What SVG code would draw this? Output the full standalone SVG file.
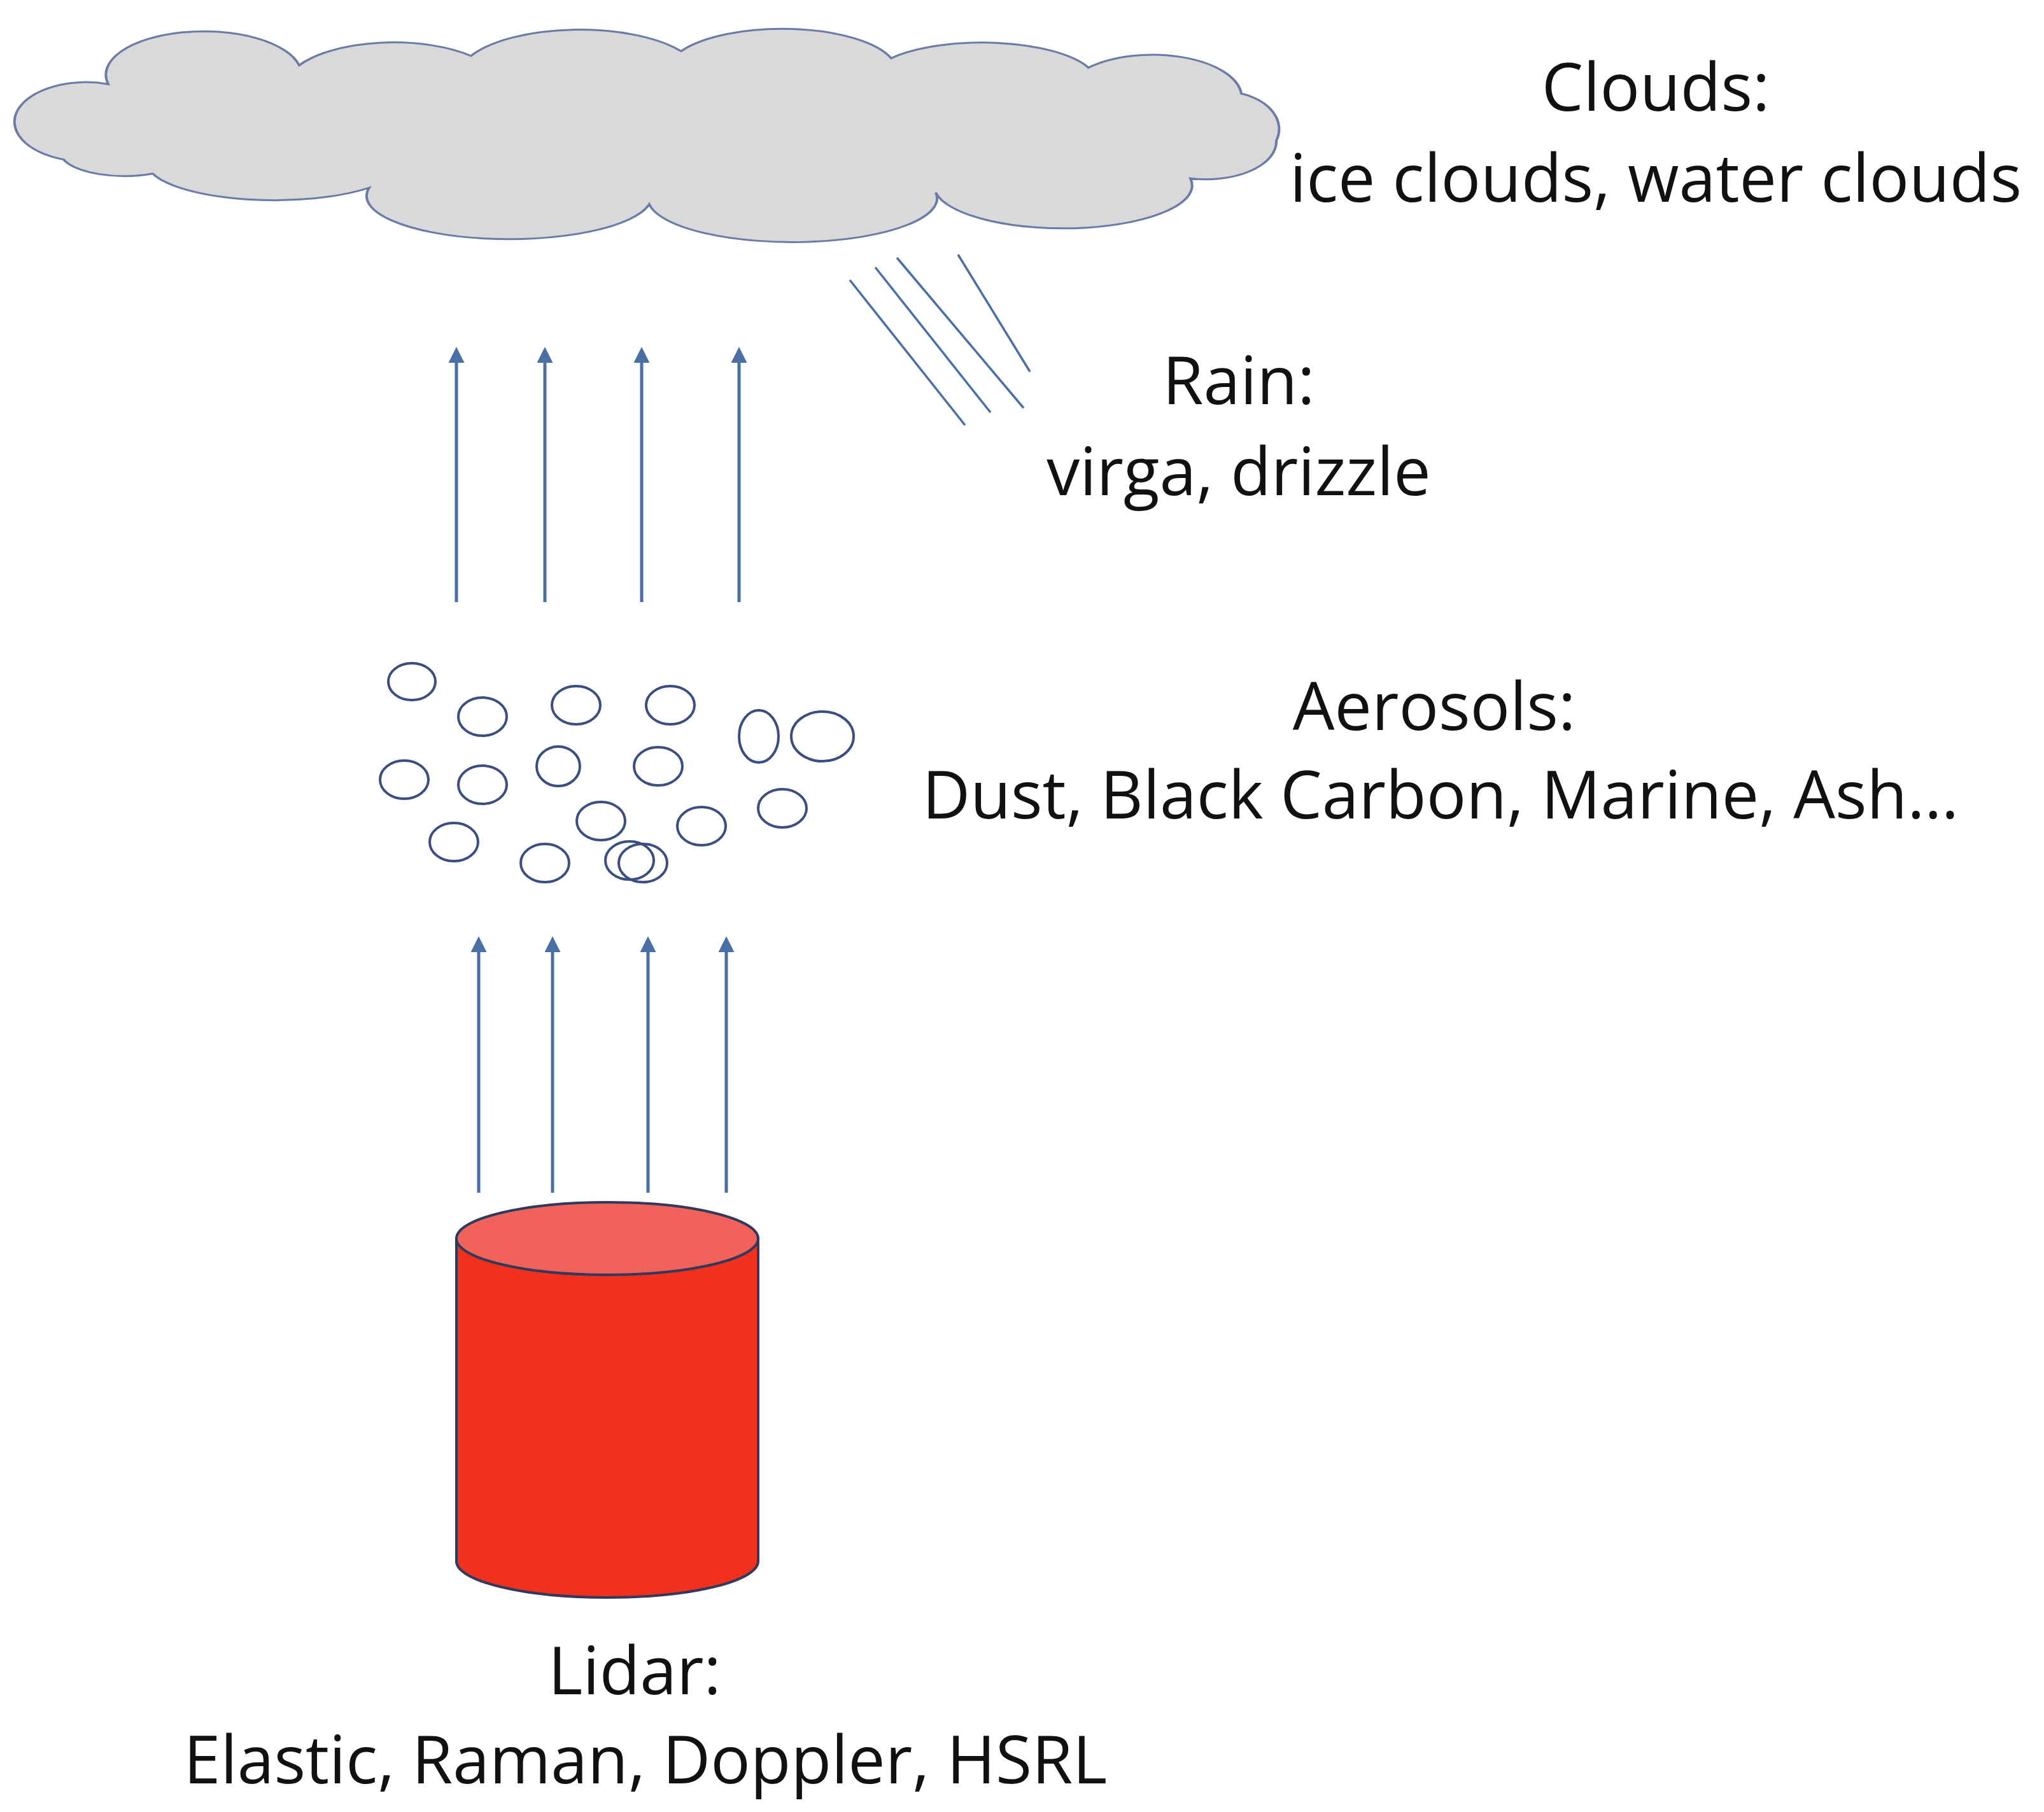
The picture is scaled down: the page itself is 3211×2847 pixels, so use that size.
<svg xmlns="http://www.w3.org/2000/svg" width="3211" height="2847" viewBox="0 0 3211 2847">
<style>
text{font-family:"Open Sans","Liberation Sans",sans-serif;font-size:104px;fill:#111;text-anchor:middle}
.arr{stroke:#4A6FA5;stroke-width:5;fill:none}
.p{fill:none;stroke:#3A4E80;stroke-width:4}
.rain{stroke:#4A6FA5;stroke-width:3.5}
</style>
<defs><marker id="ah" markerWidth="5" markerHeight="5" refX="2" refY="2.5" orient="auto" markerUnits="strokeWidth"><path d="M0,0 L5,2.5 L0,5 Z" fill="#4A6FA5"/></marker></defs>
<g id="cloud"><path transform="translate(20,36) scale(1,0.74)" d="M 80,290 A 80,60 0 0 1 150,130 A 150,90 0 0 1 450,90 A 170,95 0 0 1 720,70 A 190,100 0 0 1 1050,60 A 180,90 0 0 1 1380,75 A 180,85 0 0 1 1690,95 A 140,90 0 0 1 1930,150 A 90,80 0 0 1 1985,250 A 110,80 0 0 1 1850,330 A 200,90 0 0 1 1450,360 A 220,90 0 0 1 1000,385 A 220,90 0 0 1 560,350 A 200,80 0 0 1 220,320 A 100,50 0 0 1 80,290 Z" fill="#D9D9D9" stroke="#6B7BA8" stroke-width="4"/></g>
<g id="rain"><line class="rain" x1="1335" y1="440" x2="1516" y2="668"/><line class="rain" x1="1375" y1="420" x2="1556" y2="648"/><line class="rain" x1="1409" y1="405" x2="1608" y2="641"/><line class="rain" x1="1505" y1="400" x2="1618" y2="584"/></g>
<g id="connectors">
<line class="arr" x1="717" y1="946" x2="717" y2="560" marker-end="url(#ah)"/>
<line class="arr" x1="856" y1="946" x2="856" y2="560" marker-end="url(#ah)"/>
<line class="arr" x1="1008" y1="946" x2="1008" y2="560" marker-end="url(#ah)"/>
<line class="arr" x1="1161" y1="946" x2="1161" y2="560" marker-end="url(#ah)"/>
<line class="arr" x1="752" y1="1874" x2="752" y2="1486" marker-end="url(#ah)"/>
<line class="arr" x1="868" y1="1874" x2="868" y2="1486" marker-end="url(#ah)"/>
<line class="arr" x1="1018" y1="1874" x2="1018" y2="1486" marker-end="url(#ah)"/>
<line class="arr" x1="1141" y1="1874" x2="1141" y2="1486" marker-end="url(#ah)"/>
</g>
<g id="aerosols">
<ellipse class="p" cx="647" cy="1071" rx="37" ry="29"/><ellipse class="p" cx="758" cy="1126" rx="38" ry="30"/><ellipse class="p" cx="905" cy="1108" rx="38" ry="30"/><ellipse class="p" cx="1053" cy="1108" rx="38" ry="30"/><ellipse class="p" cx="1192" cy="1157" rx="31" ry="41"/><ellipse class="p" cx="1292" cy="1157" rx="49" ry="39"/><ellipse class="p" cx="635" cy="1225" rx="38" ry="30"/><ellipse class="p" cx="758" cy="1233" rx="38" ry="30"/><ellipse class="p" cx="877" cy="1204" rx="34" ry="31"/><ellipse class="p" cx="1034" cy="1204" rx="38" ry="30"/><ellipse class="p" cx="1229" cy="1270" rx="38" ry="30"/><ellipse class="p" cx="713" cy="1323" rx="38" ry="30"/><ellipse class="p" cx="944" cy="1290" rx="38" ry="30"/><ellipse class="p" cx="1102" cy="1298" rx="38" ry="30"/><ellipse class="p" cx="856" cy="1356" rx="38" ry="30"/><ellipse class="p" cx="989" cy="1352" rx="38" ry="30"/><ellipse class="p" cx="1010" cy="1356" rx="38" ry="30"/>
</g>
<g id="lidar">
<path d="M717,1946 L717,2453 A237,57 0 0 0 1191,2453 L1191,1946 Z" fill="#F2301E" stroke="#2F3A5C" stroke-width="4"/>
<ellipse cx="954" cy="1946" rx="237" ry="57" fill="#F0625A" stroke="#2F3A5C" stroke-width="4"/>
</g>
<g id="labels">
<text x="2601" y="174">Clouds:</text>
<text x="2601" y="317">ice clouds, water clouds</text>
<text x="1946" y="635">Rain:</text>
<text x="1946" y="778">virga, drizzle</text>
<text x="2253" y="1147">Aerosols:</text>
<text x="2263" y="1286">Dust, Black Carbon, Marine, Ash…</text>
<text x="997" y="2662">Lidar:</text>
<text x="1014" y="2802">Elastic, Raman, Doppler, HSRL</text>
</g>
</svg>
